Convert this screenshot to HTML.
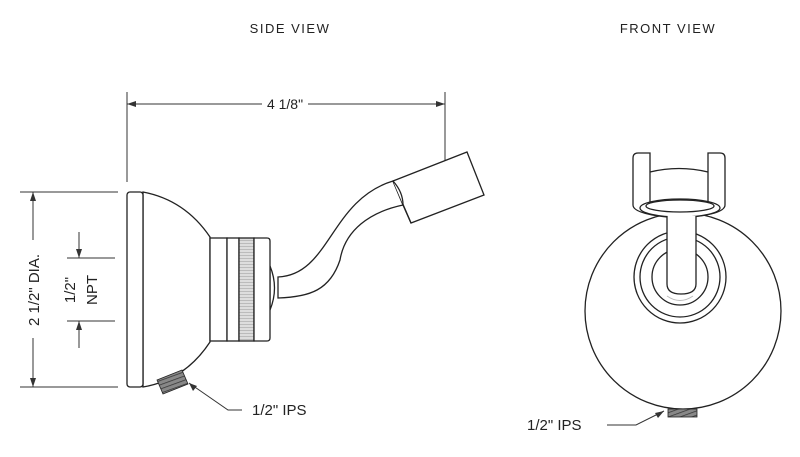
<!DOCTYPE html>
<html><head><style>body{margin:0;background:#fff}svg{display:block}</style></head>
<body>
<svg width="800" height="457" viewBox="0 0 800 457" xmlns="http://www.w3.org/2000/svg" font-family="Liberation Sans, sans-serif">
<defs>
<pattern id="h" width="3" height="3" patternUnits="userSpaceOnUse"><rect width="3" height="3" fill="#ddd"/><path d="M0 0H3" stroke="#999" stroke-width="1"/></pattern>
<pattern id="t" width="4" height="4" patternUnits="userSpaceOnUse" patternTransform="rotate(70)"><rect width="4" height="4" fill="#888"/><path d="M0 0V4" stroke="#333" stroke-width="1.5"/></pattern>
</defs>
<g font-family="Liberation Sans, sans-serif" font-size="13" fill="#222" letter-spacing="1.5">
<text x="290" y="33" text-anchor="middle">SIDE VIEW</text>
<text x="668" y="33" text-anchor="middle">FRONT VIEW</text>
</g>
<g stroke="#333" stroke-width="1" fill="none">
<line x1="127" y1="92" x2="127" y2="182"/><line x1="445" y1="92" x2="445" y2="196"/>
<line x1="127" y1="104" x2="262" y2="104"/><line x1="308" y1="104" x2="445" y2="104"/>
<line x1="20" y1="192" x2="118" y2="192"/><line x1="20" y1="387" x2="118" y2="387"/>
<line x1="33" y1="192" x2="33" y2="240"/><line x1="33" y1="338" x2="33" y2="387"/>
<line x1="67" y1="258" x2="115" y2="258"/><line x1="67" y1="321" x2="115" y2="321"/>
<line x1="79" y1="232" x2="79" y2="258"/><line x1="79" y1="321" x2="79" y2="348"/>
<line x1="128" y1="258" x2="176" y2="258" stroke-dasharray="5,3"/><line x1="128" y1="321" x2="176" y2="321" stroke-dasharray="5,3"/>
</g>
<g fill="#333">
<path d="M127 104l9-3v6z"/><path d="M445 104l-9-3v6z"/>
<path d="M33 192l-3 9h6z"/><path d="M33 387l-3-9h6z"/>
<path d="M79 258l-3-9h6z"/><path d="M79 321l-3 9h6z"/>
</g>
<text x="285" y="109" font-size="14" text-anchor="middle" fill="#222">4 1/8"</text>
<text transform="translate(39,290) rotate(-90)" font-size="15" text-anchor="middle" fill="#222">2 1/2" DIA.</text>
<text transform="translate(75,290) rotate(-90)" font-size="15" text-anchor="middle" fill="#222">1/2"</text>
<text transform="translate(97,290) rotate(-90)" font-size="15" text-anchor="middle" fill="#222">NPT</text>
<g stroke="#222" stroke-width="1.3" fill="#fff">
<path d="M143 192Q185 200 210 237V342Q185 380 143 387Z"/>
<rect x="127" y="192" width="16" height="195" rx="3"/>
<path d="M270 266Q279 288 270 310Z"/>
<path d="M278 277C330 275 330 200 393 181L403 205C370 212 345 230 340 260C330 290 310 297 278 298Z"/>
<path d="M393 181L467 152L484 195L411 223Z"/>
<path d="M393 181Q403 192 403 205L411 223"/>
<rect x="210" y="238" width="17" height="103"/>
<rect x="227" y="238" width="12" height="103"/>
<rect x="239" y="238" width="15" height="103" fill="url(#h)"/>
<path d="M254 238H267Q270 238 270 241V338Q270 341 267 341H254Z"/>
<path d="M157 380L182 370L188 384L163 394Z" fill="url(#t)" stroke-width="0.8"/>
</g>
<g stroke="#333" fill="none"><path d="M189 383L228 410H242"/></g>
<path d="M189 383l8 3-4 5z" fill="#333"/>
<text x="252" y="415" font-size="15" fill="#222">1/2" IPS</text>
<g stroke="#222" stroke-width="1.3" fill="#fff">
<circle cx="683" cy="311" r="98"/>
<path d="M633 158Q633 153 638 153H650V203H708V153H720Q725 153 725 158V205Q725 215 680 218Q633 215 633 205Z"/>
<path d="M650 172Q679 165 708 172"/>
<ellipse cx="680" cy="208" rx="40" ry="9"/>
<ellipse cx="680" cy="206" rx="34" ry="6"/>
<circle cx="680" cy="277" r="46"/>
<circle cx="680" cy="277" r="40"/>
<circle cx="680" cy="277" r="28"/>
<path d="M667 216V284Q667 294 681 294Q696 294 696 284V216"/>
<rect x="668" y="409" width="29" height="8" fill="url(#t)" stroke-width="0.8"/>
</g>
<path d="M667 296Q680 305 693 296" stroke="#bbb" fill="none"/>
<g stroke="#333" fill="none"><path d="M664 411L636 425H607"/></g>
<path d="M664 411l-9 2 3 5z" fill="#333"/>
<text x="527" y="430" font-size="15" fill="#222">1/2" IPS</text>
</svg>
</body></html>
